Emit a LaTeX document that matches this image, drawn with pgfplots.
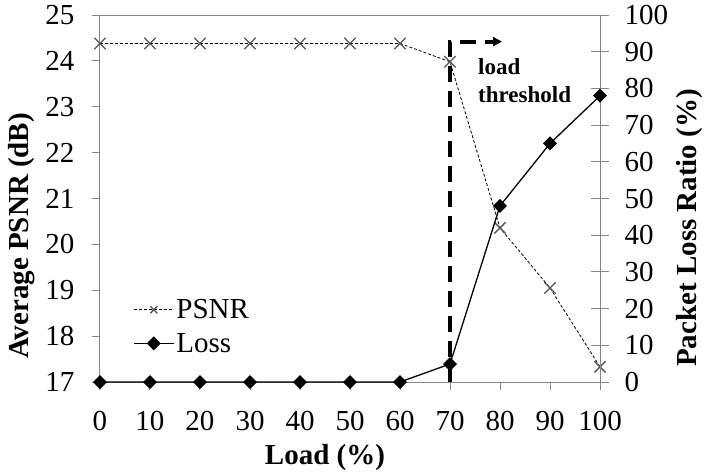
\documentclass[border=0pt]{standalone}
\usepackage{pgfplots}
\pgfplotsset{compat=1.18}
\usepackage{fontspec}
\setmainfont{Liberation Serif}
\usetikzlibrary{arrows.meta}
\definecolor{axgray}{RGB}{134,134,134}
\definecolor{mkgray}{RGB}{85,85,85}
\begin{document}
\begin{tikzpicture}
\pgfplotsset{
  every axis/.append style={
    scale only axis, width=500pt, height=367pt,
    xmin=0, xmax=100,
    /pgf/number format/assume math mode=true,
    tick label style={font=\fontsize{29}{32}\selectfont},
    label style={font=\fontsize{29}{32}\selectfont\bfseries},
    axis line style={axgray, line width=1pt},
    tick style={axgray, line width=1pt},
    clip=false,
  },
  psnrstyle/.style={black, line width=0.8pt, dash pattern=on 3pt off 2pt,
    mark=x, mark size=8pt, mark options={solid, mkgray, line width=1.3pt}},
  lossstyle/.style={black, line width=1.3pt,
    mark=square*, mark size=4.3pt, mark options={solid, black, rotate=45}},
}
\pgfplotstableread{
x psnr loss
0 24.38 0
10 24.38 0
20 24.38 0
30 24.38 0
40 24.38 0
50 24.38 0
60 24.38 0
70 23.98 4.9
80 20.36 48.0
90 19.05 65.0
100 17.33 78.0
}\datatable
\begin{axis}[
  at={(0,0)}, anchor=south west,
  ymin=17, ymax=25, ytick={17,18,...,25},
  xtick={0,10,...,100},
  xtick pos=bottom, ytick pos=left,
  tick align=outside, major tick length=8pt,
  yticklabel style={xshift=-14pt},
  xticklabel style={yshift=-18pt},
  xlabel={Load (\%)},
  ylabel={Average PSNR (dB)},
  xlabel style={at={(axis description cs:0.45,-0.205)}, anchor=center},
  ylabel style={at={(axis description cs:-0.156,0.398)}, anchor=center},
]
\addplot[psnrstyle] table[x=x, y=psnr] {\datatable};
\draw[line width=3.8pt, dash pattern=on 16pt off 9pt, -{Triangle[length=9pt,width=9pt]}]
  (axis cs:70,17) |- (axis cs:80.4,24.42);
\node[anchor=north west, inner sep=0pt, align=left,
  font=\fontsize{23}{28}\selectfont\bfseries] at (axis cs:75.6,24.06) {load\\threshold};
\end{axis}
\begin{axis}[
  at={(0,0)}, anchor=south west,
  ymin=0, ymax=100, ytick={0,10,...,100},
  axis y line*=right, axis x line=none,
  tick align=center, major tick length=18pt,
  yticklabel style={xshift=12pt},
  ylabel={Packet Loss Ratio (\%)},
  ylabel style={at={(axis description cs:1.18,0.42)}, anchor=center},
  legend style={at={(axis description cs:0.066,0.231)}, anchor=north west,
    draw=none, fill=none, font=\fontsize{29}{32}\selectfont,
    row sep=9pt, inner sep=0pt,
    /tikz/every even column/.append style={column sep=2pt}},
  legend cell align=left,
  legend image code/.code={
    \draw[mark repeat=2, mark phase=2, #1] plot coordinates {(0pt,0pt) (20pt,0pt) (40pt,0pt)};},
]
\addlegendimage{psnrstyle, mark size=5pt}
\addlegendentry{PSNR}
\addplot[lossstyle] table[x=x, y=loss] {\datatable};
\addlegendentry{Loss}
\end{axis}
\pgfresetboundingbox
\useasboundingbox (-100pt,-93pt) rectangle (607pt,382pt);
\end{tikzpicture}
\end{document}
